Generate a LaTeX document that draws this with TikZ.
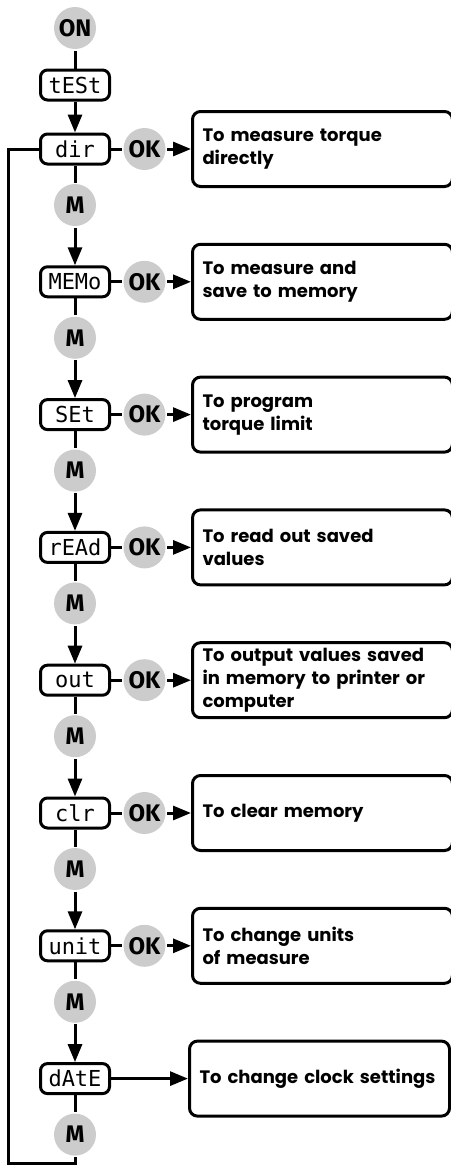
\documentclass[tikz,border=0pt]{standalone}
\usepackage{fontspec}
\setmainfont{Poppins}
\newfontfamily\lcdfont{DejaVu Sans Mono}
\newfontfamily\keyfont{Fira Sans}
\usepackage{xcolor}
\usetikzlibrary{positioning, arrows.meta}
\tikzset{
    >={Triangle[length=18pt,width=14pt]},       % makes the arrow heads bold
    node distance=20pt,                         % specifies the minimum distance between two nodes. Change if necessary.
    key/.style={circle, fill=gray!40, minimum size=42pt, inner sep=0pt,
        font=\keyfont\bfseries\fontsize{24}{24}\selectfont},   % the grey buttons
    display/.style={draw, rounded corners=7pt, minimum width=69pt, minimum height=30pt,
        inner sep=0pt, font=\lcdfont\fontsize{22}{22}\selectfont},   % the lcd readings
    info/.style={draw, rounded corners=8pt, minimum height=75pt, text width=240pt,
        inner xsep=10pt, align=left, font=\bfseries\fontsize{18}{23}\selectfont},
}

\begin{document}
\begin{tikzpicture}[x=1pt, y=1pt, line width=3pt]

\useasboundingbox (0,0) rectangle (450,-1167);

\node[key] (on) at (75,-28) {ON};
\node[display, below=18pt of on] (test) {tESt};

\foreach \lcd/\what [count=\i] in {
    dir/{To measure torque\\directly},
    MEMo/{To measure and\\save to memory},
    SEt/{To program\\torque limit},
    rEAd/{To read out saved\\values},
    out/{To output values saved\\in memory to printer or\\computer},
    clr/{To clear memory},
    unit/{To change units\\of measure}}{
  \node[display] (d\i) at (75,{-149-132.8*(\i-1)}) {\lcd};
  \node[key, below=17pt of d\i] (m\i) {M};
  \node[key, right=11pt of d\i] (ok\i) {OK};
  \node[info, right=24pt of ok\i] (txt\i) {\what};
  \draw (d\i) -- (ok\i);
  \draw[->] (ok\i) -- (txt\i);
  \draw (d\i) -- (m\i);
}

\node[display] (d8) at (75,{-149-132.8*7}) {dAtE};
\node[key, below=17pt of d8] (m8) {M};
\node[info, right=77pt of d8] (txt8) {To change clock settings};
\coordinate (corner) at (8,-1163);

\draw (on) -- (test);
\draw[->] (test) -- (d1);
\foreach \i [evaluate=\i as \j using int(\i+1)] in {1,...,7}
  \draw[->] (m\i) -- (d\j);
\draw (d8) -- (m8);
\draw[->] (d8) -- (txt8);
\draw (m8) |- (corner) |- (d1.west);

\end{tikzpicture}
\end{document}
